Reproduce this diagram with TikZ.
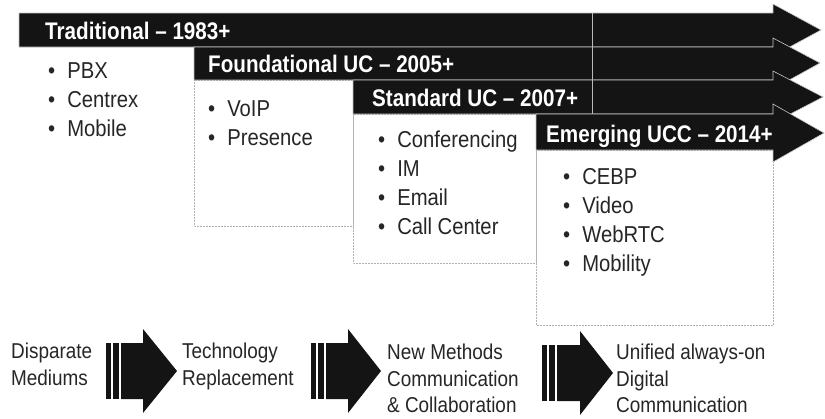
\documentclass[tikz,border=0pt]{standalone}
\usepackage{fontspec}
\setmainfont{Liberation Sans}[FakeStretch=0.88]
\newfontfamily\headfont{Liberation Sans}[FakeStretch=0.86, Ligatures=TeX]
\usetikzlibrary{positioning}

\newcommand{\itm}{\textbullet\hspace{12pt}}

\begin{document}
\begin{tikzpicture}[
  x=1pt, y=-1pt,
  every node/.style={inner sep=0pt, align=left},
  band/.style={fill=black!92, draw=gray!45, line width=0.6pt, line join=miter},
  bandlabel/.style={anchor=base west, text=white, font=\headfont\fontsize{24}{28}\selectfont\bfseries},
  itemlist/.style={anchor=north west, text=black!85, font=\fontsize{23}{29}\selectfont},
  stage/.style={anchor=north west, text=black!85, font=\fontsize{21.5}{26.5}\selectfont},
  panel/.style={draw=gray!60, densely dotted, line width=0.5pt},
  block/.style={fill=black!92},
]

\useasboundingbox[fill=white] (0,0) rectangle (825,418);

%% panels under the bands
\draw[panel] (194,80) rectangle (353,226);
\draw[panel] (353,114) rectangle (536,263);
\draw[panel] (536,150) rectangle (773,325);

%% bands, later ones laid over the earlier heads
\draw[band] (19,13) -- (773,13) -- (773,4) -- (821,30) -- (773,56) -- (773,47) -- (19,47) -- cycle;
\draw[band] (194,47) -- (773,47) -- (773,38) -- (820,63) -- (773,89) -- (773,80) -- (194,80) -- cycle;
\draw[band] (353,80) -- (773,80) -- (773,71) -- (823,97) -- (773,123) -- (773,114) -- (353,114) -- cycle;
\draw[band] (536,114) -- (773,114) -- (773,104) -- (824,133) -- (773,162) -- (773,150) -- (536,150) -- cycle;
\draw[gray!55, line width=0.4pt] (592,13) -- (592,114);

\node[bandlabel] (trad)  at (45,39)  {Traditional -- 1983+};
\node[bandlabel] (found) at (208,72) {Foundational UC -- 2005+};
\node[bandlabel] (std)   at (372,106) {Standard UC -- 2007+};
\node[bandlabel] (emerg) at (546,142) {Emerging UCC -- 2014+};

\node[itemlist] (tradlist)  at (48,62)   {\itm PBX\\ \itm Centrex\\ \itm Mobile};
\node[itemlist] (foundlist) at (208,100) {\itm VoIP\\ \itm Presence};
\node[itemlist] (stdlist)   at (378,131) {\itm Conferencing\\ \itm IM\\ \itm Email\\ \itm Call Center};
\node[itemlist] (emerglist) at (563,168) {\itm CEBP\\ \itm Video\\ \itm WebRTC\\ \itm Mobility};

%% stages along the bottom
\node[stage] (disparate) at (11,343)  {Disparate\\Mediums};
\node[stage] (replace)   at (182,343) {Technology\\Replacement};
\node[stage] (methods)   at (387,344) {New Methods\\Communication\\\& Collaboration};
\node[stage] (unified)   at (616,344) {Unified always-on\\Digital\\Communication};

\begin{scope}[xshift=106]
  \fill[block] (0,343) rectangle (4.5,399);
  \fill[block] (7,343) rectangle (13,399);
  \fill[block] (15,343) -- (37,343) -- (37,329) -- (71,371) -- (37,413) -- (37,399) -- (15,399) -- cycle;
\end{scope}
\begin{scope}[xshift=311]
  \fill[block] (0,343) rectangle (4.5,399);
  \fill[block] (7,343) rectangle (13,399);
  \fill[block] (15,343) -- (37,343) -- (37,329) -- (70,371) -- (37,413) -- (37,399) -- (15,399) -- cycle;
\end{scope}
\begin{scope}[xshift=542]
  \fill[block] (0,345) rectangle (4.5,401);
  \fill[block] (7,345) rectangle (13,401);
  \fill[block] (15,345) -- (38,345) -- (38,331) -- (71,373) -- (38,415) -- (38,401) -- (15,401) -- cycle;
\end{scope}

\end{tikzpicture}
\end{document}
